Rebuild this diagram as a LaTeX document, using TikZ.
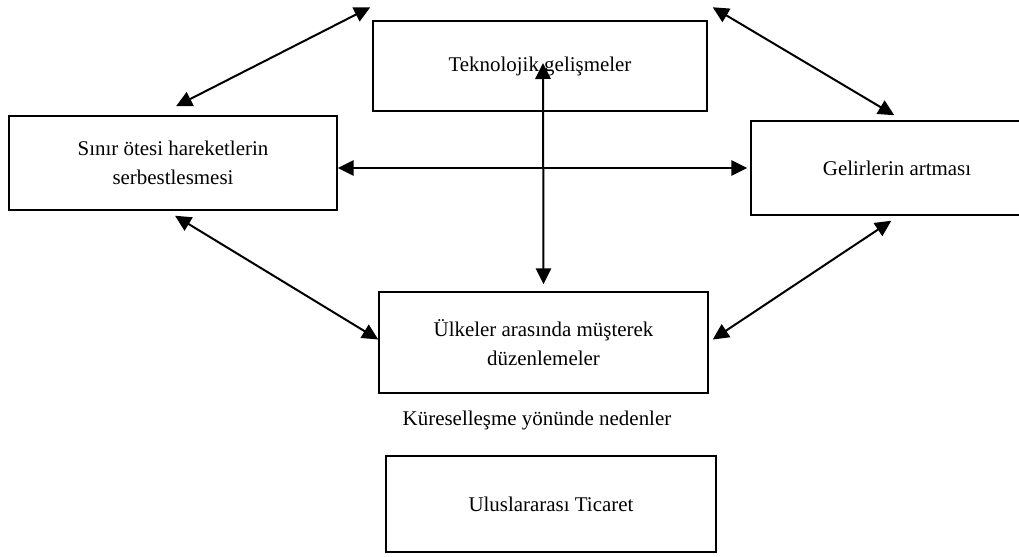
\documentclass[tikz,border=0pt]{standalone}
\usepackage{fontspec}
\setmainfont{Liberation Serif}
\usepackage{tikz}
\usetikzlibrary{arrows.meta,calc,positioning}
\tikzset{
blok/.style={draw, line width=1.1pt, inner sep=0pt, align=center}, % the boxes
iki/.style={{Triangle[length=12pt,width=11.5pt]}-{Triangle[length=12pt,width=11.5pt]}, line width=1.5pt}, % arrows with two heads
}

\begin{document}
\begin{tikzpicture}[x=0.75pt,y=-0.75pt,font=\fontsize{15.7}{22}\selectfont]
   \useasboundingbox (0,0) rectangle (1019,556);
   \node[blok, minimum width=250.5pt, minimum height=67.5pt] (tek) at (540,66) {Teknolojik gelişmeler};
   \node[blok, minimum width=246pt, minimum height=70.5pt] (sinir) at (173,163) {Sınır ötesi hareketlerin\\serbestlesmesi};
   \node[blok, minimum width=219pt, minimum height=70.5pt] (gelir) at (897,168) {Gelirlerin artması};
   \node[blok, minimum width=246.75pt, minimum height=75.75pt] (ulke) at (543.5,342.5) {Ülkeler arasında müşterek\\düzenlemeler};
   \node (neden) at (537,420) {Küreselleşme yönünde nedenler};
   \node[blok, minimum width=247.5pt, minimum height=72pt] (ticaret) at (551,504) {Uluslararası Ticaret};
    \draw[iki] ([shift={(3,-9)}]sinir.north) -- ([shift={(-2,-13)}]tek.north west);
    \draw[iki] ([shift={(5,-13)}]tek.north east) -- ([shift={(144,-5)}]gelir.north west);
    \draw[iki] ([shift={(2,5)}]sinir.south) -- ([shift={(0,-3)}]ulke.west);
    \draw[iki] ([shift={(4,-3)}]ulke.east) -- ([shift={(141,5)}]gelir.south west);
    \draw[iki] (sinir.east |- gelir.west) -- ([shift={(-3,0)}]gelir.west);
    \draw[iki] ([shift={(3,-3)}]tek.center) -- ([shift={(0,-7)}]ulke.north);
\end{tikzpicture}
\end{document}
